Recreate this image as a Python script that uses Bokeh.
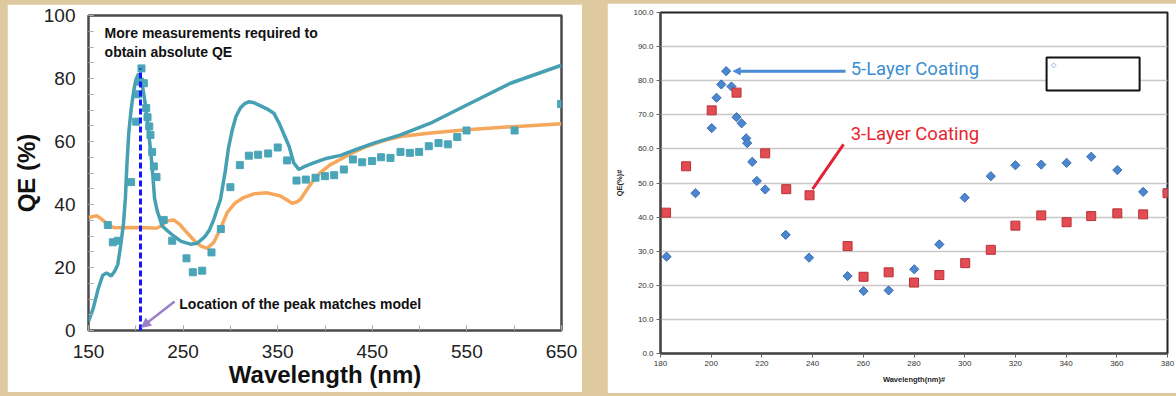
import numpy as np
from bokeh.plotting import figure
from bokeh.layouts import row, column
from bokeh.models import (Range1d, FixedTicker, Label, Arrow, NormalHead,
                          NumeralTickFormatter, BoxAnnotation)
from bokeh.embed import file_html
from bokeh.resources import INLINE

# ---------------- Left panel data ----------------
model_teal_wl = [150, 155, 160, 165, 169, 174, 178, 181, 184, 187, 189, 190.5, 192.6, 195,
                 197.5, 200, 203, 206, 209.5, 213.7, 217.3, 219.8, 222.6, 227.9, 234, 240,
                 248, 257.8, 264.9, 270, 273.7, 278, 282.5, 286, 289.5, 294.8, 298, 302, 306,
                 310.7, 315, 319.5, 325, 332, 339, 345.9, 352, 357, 362, 367, 372.3, 378,
                 388, 400, 416.4, 433, 451.6, 479.8, 511.5, 546.7, 596, 650]
model_teal_qe = [2.9, 7, 13, 17.5, 18.3, 17.3, 19, 21, 27, 34, 42, 52, 62.8, 70,
                 75.5, 79.5, 81.5, 79.5, 73, 62.7, 52, 42, 38, 33.2, 31.5, 30,
                 28.3, 27.4, 27.7, 29, 30.1, 32, 35.3, 38.5, 41.6, 51, 58, 63.7, 68,
                 70.7, 72, 72.6, 72.3, 71.3, 70.3, 69, 65.5, 62, 58.5, 53.2, 51.1, 52,
                 53.2, 54.5, 55.6, 57.5, 59.5, 62.1, 65.8, 71.1, 78.5, 84.2]

model_orange_wl = [150, 155, 159, 163, 166, 171, 176.7, 185, 197.9, 210, 222.6, 228, 233,
                   240, 247, 254, 261, 268.4, 275.5, 282.5, 289, 296.6, 305, 314, 325, 339,
                   352.9, 359, 365.3, 370, 374, 381, 388, 395, 405, 416, 430, 444.6, 462,
                   480, 511.5, 550, 603, 650]
model_orange_qe = [35.9, 36.2, 36.4, 35.5, 34.8, 33.5, 32.7, 32.6, 32.7, 32.6, 32.5, 33.5, 34.8,
                   35.1, 33.5, 31.1, 28.8, 26.9, 26.1, 28, 32, 37.4, 40.5, 42.2, 43.4, 43.7,
                   42.7, 41.6, 40.4, 40.8, 41.6, 44.8, 47.8, 50.1, 52.5, 54.3, 56.5, 58.5, 60.3,
                   61.6, 62.7, 63.7, 64.8, 65.6]

meas_wl = [170.4, 175.7, 181.0, 195.0, 200.4, 202.5, 204.5, 206.0, 208.5, 211.0, 212.4,
           214.2, 215.5, 217.3, 219.1, 221.9, 229.5, 238.5, 253.6, 260.3, 270.2, 280.0,
           289.9, 300.0, 310.0, 319.5, 329.3, 339.9, 350.0, 360.0, 369.9, 379.7, 390.0,
           399.9, 409.7, 419.9, 429.5, 439.3, 449.8, 459.3, 469.2, 479.8, 489.7, 499.5,
           509.7, 520.0, 529.8, 539.8, 549.6, 600.4, 649.6]
meas_qe = [33.5, 28.0, 28.5, 47.1, 66.3, 75.0, 79.0, 83.2, 78.5, 70.6, 67.7,
           64.8, 62.1, 56.7, 52.1, 48.7, 35.1, 28.5, 22.9, 18.5, 19.0, 24.8,
           32.2, 45.5, 52.5, 55.5, 55.8, 56.2, 58.1, 54.0, 47.6, 47.9, 48.5,
           49.0, 49.3, 51.1, 54.3, 53.4, 53.8, 55.0, 54.8, 56.7, 56.4, 56.7,
           58.5, 59.5, 59.1, 61.4, 63.5, 63.5, 71.9]

left_x_ticks = [150, 250, 350, 450, 550, 650]
left_x_minor = list(range(150, 651, 50))
left_y_ticks = [0, 20, 40, 60, 80, 100]
left_y_minor = list(range(0, 101, 5))

# ---------------- Right panel data ----------------
five_wl = [182.4, 193.8, 200.2, 202.1, 204.0, 205.9, 208.0, 210.0, 212.0, 213.8, 214.2,
           216.2, 218.0, 221.3, 229.4, 238.6, 253.8, 260.1, 270.0, 280.1, 290.0, 300.0,
           310.3, 320.0, 330.2, 340.2, 349.9, 360.2, 370.4, 380.0]
five_qe = [28.4, 47.0, 66.1, 75.0, 78.9, 82.8, 78.3, 69.3, 67.5, 63.1, 61.7,
           56.2, 50.6, 48.1, 34.8, 28.1, 22.7, 18.3, 18.5, 24.7, 32.0, 45.7,
           52.0, 55.2, 55.4, 55.9, 57.7, 53.8, 47.4, 47.5]

three_wl = [182.2, 190.1, 200.2, 210.0, 221.3, 229.6, 238.8, 253.8, 260.1, 270.0, 280.0,
            290.0, 300.2, 310.3, 320.0, 330.2, 340.2, 349.9, 360.2, 370.4, 380.0]
three_qe = [41.3, 54.9, 71.3, 76.5, 58.7, 48.2, 46.4, 31.5, 22.5, 23.8, 20.8,
            23.0, 26.5, 30.4, 37.5, 40.5, 38.5, 40.3, 41.1, 40.8, 47.0]

right_x_ticks = list(range(180, 381, 20))
right_y_ticks = list(range(0, 101, 10))

TAN = "#dfcaa0"
TEAL = "#45a0b3"
ORANGE = "#f6a75c"
PURPLE = "#9b80c6"

# ================= Left figure =================
p1 = figure(width=575, height=388, x_range=Range1d(150, 650), y_range=Range1d(0, 100),
            output_backend="svg", toolbar_location=None,
            min_border_left=81, min_border_right=21, min_border_top=11, min_border_bottom=62,
            background_fill_color="white", border_fill_color="white",
            outline_line_color="#4a4a4a", outline_line_width=2.5,
            margin=(4, 0, 4, 7))
p1.xgrid.visible = False
p1.ygrid.visible = False
p1.xaxis.ticker = FixedTicker(ticks=left_x_ticks, minor_ticks=left_x_minor)
p1.yaxis.ticker = FixedTicker(ticks=left_y_ticks, minor_ticks=left_y_minor)
p1.xaxis.axis_label = "Wavelength (nm)"
p1.yaxis.axis_label = "QE (%)"
for ax in (p1.xaxis[0], p1.yaxis[0]):
    ax.axis_line_color = None
    ax.major_tick_in = 5
    ax.major_tick_out = 0
    ax.minor_tick_in = 5
    ax.minor_tick_out = 0
    ax.major_tick_line_color = "#aaaaaa"
    ax.minor_tick_line_color = "#aaaaaa"
    ax.major_label_text_font = "Liberation Sans"
    ax.major_label_text_font_size = "19px"
    ax.major_label_text_color = "#222222"
    ax.axis_label_text_font = "Liberation Sans"
    ax.axis_label_text_font_size = "24px"
    ax.axis_label_text_font_style = "bold"
    ax.axis_label_text_color = "#111111"
p1.xaxis.major_label_standoff = 14
p1.xaxis.axis_label_standoff = 0
p1.yaxis.major_label_standoff = 13
p1.yaxis.axis_label_standoff = 1

p1.line(model_orange_wl, model_orange_qe, line_color=ORANGE, line_width=3.5)
p1.line(model_teal_wl, model_teal_qe, line_color=TEAL, line_width=3.5)
p1.scatter(meas_wl, meas_qe, marker="square", size=7, fill_color="#4aa5b8", line_color="#4aa5b8")

ipk = int(np.argmax(meas_qe))
peak_w, peak_q = meas_wl[ipk], meas_qe[ipk]
p1.segment(x0=[peak_w - 1], y0=[0], x1=[peak_w - 1], y1=[peak_q],
           line_color="#1414ff", line_width=3, line_dash="6 3")

p1.add_layout(Label(x=167, y=94.3, text="More measurements required to",
                    text_font="Liberation Sans", text_font_size="14px", text_font_style="bold",
                    text_color="#111111", text_baseline="middle"))
p1.add_layout(Label(x=167, y=88.3, text="obtain absolute QE",
                    text_font="Liberation Sans", text_font_size="14px", text_font_style="bold",
                    text_color="#111111", text_baseline="middle"))
p1.add_layout(Label(x=246, y=8.4, text="Location of the peak matches model",
                    text_font="Liberation Sans", text_font_size="14px", text_font_style="bold",
                    text_color="#111111", text_baseline="middle"))
p1.add_layout(Arrow(end=NormalHead(size=9, fill_color=PURPLE, line_color=PURPLE),
                    x_start=241, y_start=9.2, x_end=peak_w, y_end=1.0,
                    line_color=PURPLE, line_width=2.5))

# ================= Right figure =================
p2 = figure(width=569, height=390, x_range=Range1d(180, 380), y_range=Range1d(0, 100),
            output_backend="svg", toolbar_location=None,
            min_border_left=53, min_border_right=9, min_border_top=9, min_border_bottom=40,
            background_fill_color="white", border_fill_color="white",
            outline_line_color="#222222", outline_line_width=2,
            margin=(3, 0, 3, 0))
p2.xgrid.visible = False
p2.ygrid.grid_line_color = "#c8c8c8"
p2.ygrid.grid_line_width = 1.5
p2.xaxis.ticker = FixedTicker(ticks=right_x_ticks)
p2.yaxis.ticker = FixedTicker(ticks=right_y_ticks)
p2.yaxis.formatter = NumeralTickFormatter(format="0.0")
p2.xaxis.axis_label = "Wavelength(nm)#"
p2.yaxis.axis_label = "QE(%)#"
for ax in (p2.xaxis[0], p2.yaxis[0]):
    ax.axis_line_color = "#444444"
    ax.axis_line_width = 2
    ax.major_tick_in = 0
    ax.major_tick_out = 4
    ax.minor_tick_line_color = None
    ax.major_tick_line_color = "#666666"
    ax.major_label_text_font = "Liberation Sans"
    ax.major_label_text_font_size = "8px"
    ax.major_label_text_color = "#333333"
    ax.major_label_standoff = 3
    ax.axis_label_text_font = "Liberation Sans"
    ax.axis_label_text_font_size = "7.5px"
    ax.axis_label_text_font_style = "bold"
    ax.axis_label_text_color = "#222222"
    ax.axis_label_standoff = 6

p2.scatter(five_wl, five_qe, marker="square", angle=np.pi / 4, size=6.5,
           fill_color="#4b86d1", line_color="#3a6db0")
p2.scatter(three_wl, three_qe, marker="square", size=9,
           fill_color="#e24c52", line_color="#b83338")

i5 = int(np.argmax(five_qe))
p2.add_layout(Arrow(end=NormalHead(size=7, fill_color="#4a8ad6", line_color="#4a8ad6"),
                    x_start=253, y_start=five_qe[i5], x_end=five_wl[i5] + 2.8, y_end=five_qe[i5],
                    line_color="#4a8ad6", line_width=3))
p2.add_layout(Label(x=255, y=five_qe[i5] + 0.5, text="5-Layer Coating", text_font="Roboto",
                    text_font_size="18.5px", text_color="#3b8fd0", text_baseline="middle"))
i3 = 6
p2.add_layout(Arrow(end=None, x_start=252.2, y_start=61.3,
                    x_end=three_wl[i3] + 1.2, y_end=three_qe[i3] + 1.8,
                    line_color="#e42236", line_width=3))
p2.add_layout(Label(x=255, y=64.4, text="3-Layer Coating", text_font="Roboto",
                    text_font_size="18.5px", text_color="#e8262f", text_baseline="middle"))

# empty legend box with tiny swatch
legend_box = dict(left=332.3, right=369.0, bottom=77.1, top=86.8)
p2.add_layout(BoxAnnotation(fill_color="white", fill_alpha=1.0, line_color="#111111",
                            line_width=2, line_alpha=1.0, **legend_box))
sw = p2.scatter([legend_box["left"] + 2.8], [legend_box["top"] - 2.3], marker="square",
                angle=np.pi / 4, size=3.5, fill_color=None, line_color="#9db8e0")
sw.level = "overlay"

layout = row(column(p1), column(p2), spacing=25, styles={"background-color": TAN})
open("out.html", "w").write(file_html(layout, INLINE))
